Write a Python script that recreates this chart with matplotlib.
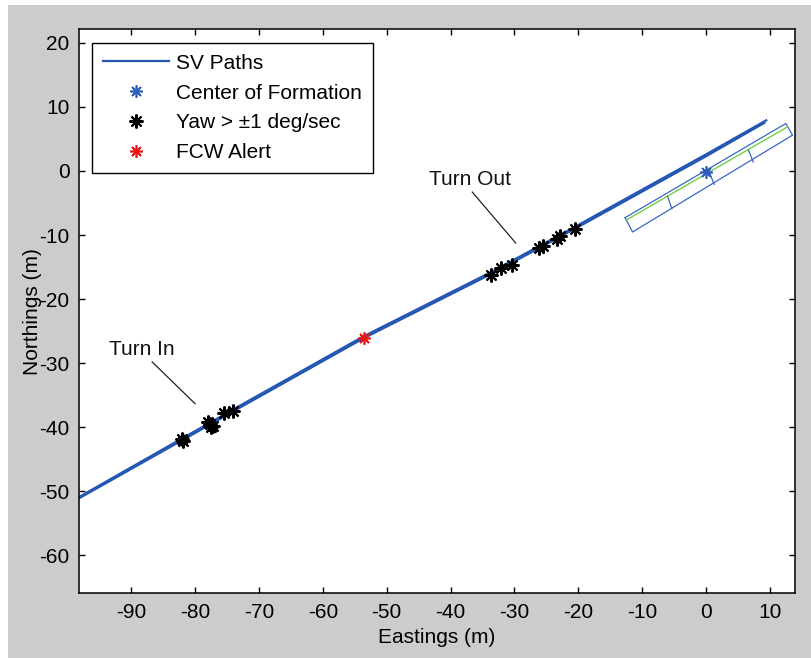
import matplotlib.pyplot as plt
from matplotlib.patches import Rectangle

plt.rcParams['font.family'] = ['Liberation Sans', 'DejaVu Sans']
plt.rcParams['axes.unicode_minus'] = False

# SV paths (two vehicles, nearly overlapping)
path1_x = [-98, -82.5, -77.5, -74, -53.6, -33.7, -25.9, -20.5, 0, 9.1]
path1_y = [-51.0, -42.3, -39.5, -37.5, -26.1, -16.1, -11.9, -9.0, 2.3, 7.5]
path2_x = [-98, -82.5, -77.5, -74, -53.6, -33.7, -25.9, -20.5, 0, 9.4]
path2_y = [-50.8, -42.0, -39.2, -37.2, -25.8, -15.8, -11.6, -8.7, 2.6, 7.9]

# center of formation
center_x = [0]
center_y = [-0.1]

# yaw > 1 deg/sec points
yaw_x = [-82.0, -81.8, -78.0, -77.6, -77.2, -77.5, -75.4, -74.1,
         -33.7, -32.1, -30.4, -26.1, -25.6, -23.3, -22.9, -20.5]
yaw_y = [-41.8, -42.2, -39.1, -39.5, -39.8, -39.9, -37.8, -37.4,
         -16.3, -15.2, -14.6, -12.0, -11.7, -10.6, -10.2, -9.0]

# FCW alert
fcw_x = [-53.6]
fcw_y = [-26.1]

# formation box outline (corners) and center lane
box_x = [-12.68, -11.53, 13.51, 12.47, -12.68]
box_y = [-7.29, -9.53, 5.58, 7.40, -7.29]
lane_x = [-12.57, 12.73]
lane_y = [-7.70, 6.88]
div_x = [[-6.05, -5.37], [0.47, 1.25], [6.63, 7.36]]
div_y = [[-3.95, -5.88], [-0.15, -2.08], [3.23, 1.41]]

blue = '#2456b4'
gray = '#cccccc'

fig = plt.figure(figsize=(8.12, 6.58), dpi=100, facecolor='white')
fig.patches.append(Rectangle((8 / 812, 0), 1, (658 - 5) / 658, transform=fig.transFigure,
                             facecolor=gray, edgecolor='none', zorder=-10))
ax = fig.add_axes([79.3 / 812, 1 - 593.3 / 658, 715.7 / 812, 564 / 658])

ax.plot(path1_x, path1_y, color=blue, lw=1.6, label='SV Paths')
ax.plot(path2_x, path2_y, color=blue, lw=1.6)

ax.plot(box_x, box_y, color='#3b66c4', lw=0.9)
ax.plot(lane_x, lane_y, color='#66cc33', lw=0.9)
for dx, dy in zip(div_x, div_y):
    ax.plot(dx, dy, color='#3b66c4', lw=0.9)

star = (8, 2, 0)
ax.plot(center_x, center_y, ls='none', marker=star, ms=9, mew=1.2, color='#2d5db8',
        label='Center of Formation')
ax.plot(yaw_x, yaw_y, ls='none', marker=star, ms=10, mew=1.5, color='black',
        label='Yaw > \u00b11 deg/sec')
ax.plot(fcw_x, fcw_y, ls='none', marker=star, ms=9, mew=1.2, color='#ee1111',
        label='FCW Alert')

# annotations
ax.text(-93.4, -27.9, 'Turn In', fontsize=15, va='center', ha='left', color='#111111')
ax.plot([-86.7, -80.0], [-29.8, -36.3], color='#222222', lw=0.9)
ax.text(-43.3, -1.4, 'Turn Out', fontsize=15, va='center', ha='left', color='#111111')
ax.plot([-36.6, -29.8], [-3.3, -11.25], color='#222222', lw=0.9)

ax.set_xlim(-98.1, 13.9)
ax.set_ylim(-65.9, 22.1)
ax.set_xticks(range(-90, 11, 10))
ax.set_yticks(range(-60, 21, 10))
ax.tick_params(direction='in', length=4.5, width=1, top=True, right=True,
               labelsize=15, pad=7)
for s in ax.spines.values():
    s.set_linewidth(1.1)
ax.set_xlabel('Eastings (m)', fontsize=15, labelpad=4)
ax.set_ylabel('Northings (m)', fontsize=15)
ax.yaxis.set_label_coords(-0.052, 0.5)

leg = ax.legend(loc='upper left', bbox_to_anchor=(0.0173, 0.976), borderaxespad=0,
                fontsize=15, handlelength=3.2, handletextpad=0.35, borderpad=0.52,
                labelspacing=0.52, fancybox=False, framealpha=1, edgecolor='black')
leg.get_frame().set_linewidth(1.0)

fig.savefig('out.png', dpi=100, facecolor=fig.get_facecolor())
